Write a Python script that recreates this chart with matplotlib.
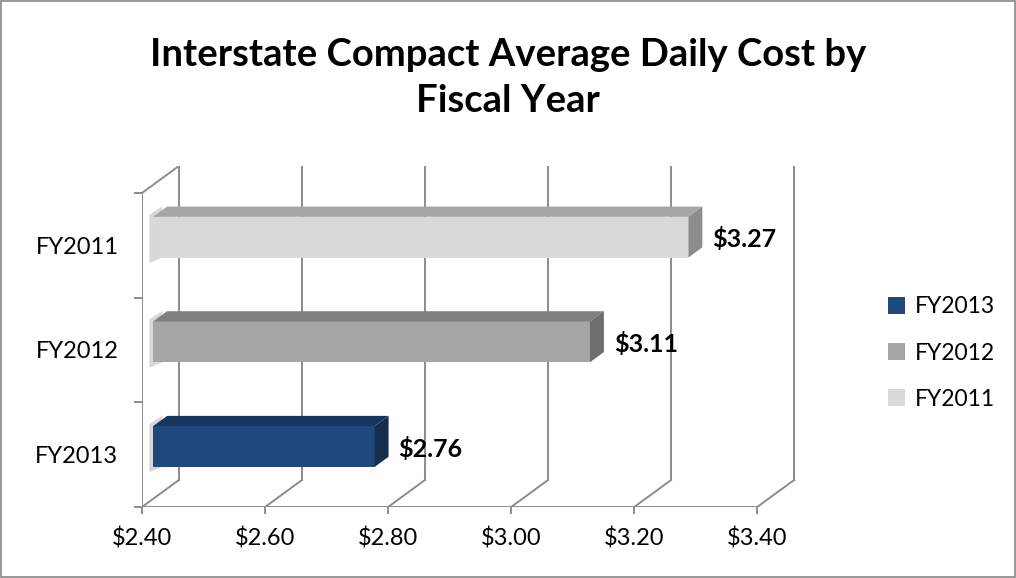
import matplotlib
matplotlib.use('Agg')
from matplotlib import pyplot as plt
from matplotlib.patches import Polygon, Rectangle

# data
categories = ["FY2013", "FY2012", "FY2011"]
costs = [2.76, 3.11, 3.27]
value_labels = ["$2.76", "$3.11", "$3.27"]
xticks = [2.40, 2.60, 2.80, 3.00, 3.20, 3.40]
xtick_labels = ["$2.40", "$2.60", "$2.80", "$3.00", "$3.20", "$3.40"]

front_colors = ["#1F497D", "#A6A6A6", "#D9D9D9"]
top_colors = ["#17375E", "#808080", "#A6A6A6"]
side_colors = ["#152E50", "#6E6E6E", "#8C8C8C"]

plt.rcParams['font.family'] = ['Lato', 'DejaVu Sans']
grid_col = "#8C8C8C"

# oblique 3d look: depth offsets in data units
DX = 0.06
DY = 0.258
d0, d1 = 0.3, 0.68
bar_h = 0.39
x0 = xticks[0]

fig = plt.figure(figsize=(10.16, 5.78), dpi=100)
ax = fig.add_axes([142 / 1016, 71 / 578, 0.6443, 0.59])
ax.set_xlim(x0, xticks[-1] + DX + 0.004)
ax.set_ylim(0, len(categories) + DY)
for s in ax.spines.values():
    s.set_visible(False)

# walls and grid
lw = 1.4
for v in xticks:
    ax.plot([v + DX, v + DX], [DY, len(categories) + DY], color=grid_col, lw=lw, zorder=1)
    ax.plot([v, v + DX], [0, DY], color=grid_col, lw=lw, zorder=1)
ax.plot([x0, xticks[-1]], [0, 0], color=grid_col, lw=lw, zorder=1)
ax.plot([x0, x0], [0, len(categories)], color=grid_col, lw=lw, zorder=1)
ax.plot([x0, x0 + DX], [len(categories), len(categories) + DY], color=grid_col, lw=lw, zorder=1)

# bars
ypos = [i + 0.5 for i in range(len(categories))]
dd = d1 - d0
for i, (y, v) in enumerate(zip(ypos, costs)):
    yb = y - bar_h / 2 + d0 * DY
    yt = yb + bar_h
    xa = x0 + d0 * DX
    xb = v + d0 * DX
    # soft shadow on the left wall
    ax.add_patch(Polygon([(x0 + 0.2 * DX, yb - 0.05), (x0 + 0.2 * DX, yt + 0.02),
                          (x0 + 0.55 * DX, yt + 0.1), (x0 + 0.55 * DX, yb)],
                         closed=True, color="#BDBDBD", alpha=0.6, lw=0, zorder=2))
    ax.barh(y + d0 * DY, v - x0, height=bar_h, left=xa, color=front_colors[i],
            label=categories[i], zorder=3)
    ax.add_patch(Polygon([(xa, yt), (xb, yt), (xb + dd * DX, yt + dd * DY), (xa + dd * DX, yt + dd * DY)],
                         closed=True, color=top_colors[i], lw=0, zorder=3))
    ax.add_patch(Polygon([(xb, yb), (xb, yt), (xb + dd * DX, yt + dd * DY), (xb + dd * DX, yb + dd * DY)],
                         closed=True, color=side_colors[i], lw=0, zorder=3))
    ax.text(v + d1 * DX + 0.016, y + d0 * DY - 0.02, value_labels[i], fontsize=18,
            fontweight='bold', va='center', ha='left', zorder=4)

# ticks
ax.set_xticks(xticks)
ax.set_xticklabels(xtick_labels, fontsize=17)
ax.tick_params(axis='x', length=5, width=1.4, color=grid_col, pad=10)
ax.set_yticks(ypos)
ax.set_yticklabels(categories, fontsize=17)
ax.tick_params(axis='y', length=0, pad=17)
ax.set_yticks(range(len(categories) + 1), minor=True)
ax.tick_params(axis='y', which='minor', length=6, width=1.4, color=grid_col)

fig.text(0.5, 1 - 78 / 578, "Interstate Compact Average Daily Cost by\nFiscal Year",
         ha='center', va='center', fontsize=27.5, fontweight='bold', linespacing=1.45)

h, l = ax.get_legend_handles_labels()
fig.legend(h, l, loc='center left', bbox_to_anchor=(867 / 1016, 1 - 353 / 578),
           frameon=False, fontsize=16.5, handlelength=0.75, handleheight=0.75,
           labelspacing=1.1, handletextpad=0.45)

fig.add_artist(Rectangle((0.001, 0.001), 0.998, 0.997, transform=fig.transFigure,
                         fill=False, edgecolor="#868686", lw=1.2))

plt.savefig('out.png', dpi=100)
